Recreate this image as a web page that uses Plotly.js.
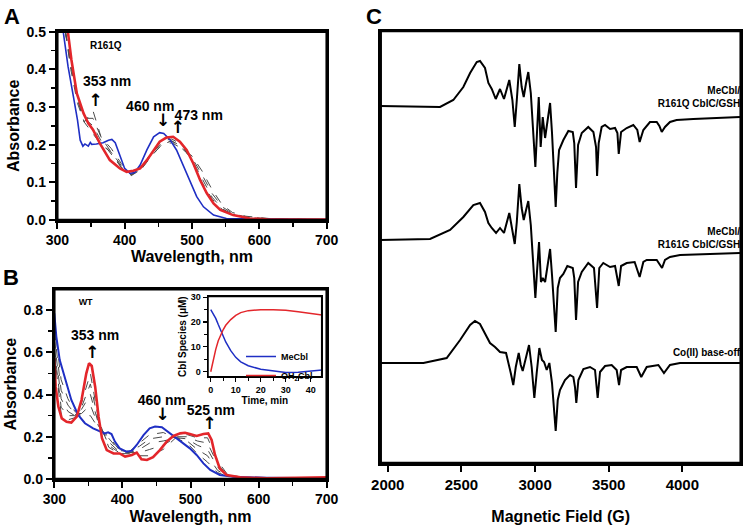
<!DOCTYPE html>
<html>
<head>
<meta charset="utf-8">
<script src="https://cdn.plot.ly/plotly-3.0.1.min.js"></script>
<style>
  html, body { margin: 0; padding: 0; background: #fff; }
  .panel { position: absolute; left: 0; top: 0; width: 745px; height: 530px; }
</style>
</head>
<body>
<div id="panelC" class="panel"></div>
<div id="panelA" class="panel"></div>
<div id="panelB" class="panel"></div>
<script>
// ---- panel A : R161Q absorbance spectra ----
const blueA_nm = [308, 316, 324, 330, 334, 338, 341, 346, 349, 351, 358, 368, 376, 381, 386, 393, 400, 408, 415, 423, 433, 443, 452, 458, 467, 477, 487, 497, 507, 517, 532, 551, 700];
const blueA_abs = [0.51, 0.407, 0.327, 0.265, 0.212, 0.196, 0.202, 0.196, 0.206, 0.201, 0.202, 0.205, 0.212, 0.214, 0.205, 0.173, 0.137, 0.124, 0.126, 0.146, 0.186, 0.221, 0.232, 0.230, 0.214, 0.186, 0.146, 0.102, 0.062, 0.035, 0.013, 0.004, 0.001];
const redA_nm = [315, 321, 329, 339, 346, 353, 363, 378, 393, 403, 413, 423, 433, 443, 452, 462, 472, 482, 492, 502, 512, 522, 532, 542, 561, 586, 611, 700];
const redA_abs = [0.51, 0.425, 0.336, 0.283, 0.257, 0.24, 0.204, 0.159, 0.137, 0.128, 0.131, 0.137, 0.159, 0.186, 0.208, 0.219, 0.221, 0.208, 0.186, 0.150, 0.106, 0.071, 0.044, 0.027, 0.013, 0.004, 0.002, 0.001];
const grayA_nm = [312, 320, 330, 340, 353, 365, 380, 395, 410, 425, 440, 455, 470, 485, 500, 515, 530, 545, 560, 580, 620, 700];
const grayA1 = [0.50, 0.40, 0.31, 0.26, 0.29, 0.22, 0.19, 0.15, 0.12, 0.14, 0.17, 0.20, 0.205, 0.19, 0.17, 0.13, 0.08, 0.04, 0.02, 0.01, 0.003, 0.001];
const grayA2 = [0.50, 0.41, 0.32, 0.27, 0.27, 0.22, 0.18, 0.145, 0.12, 0.135, 0.17, 0.20, 0.21, 0.19, 0.165, 0.12, 0.07, 0.035, 0.017, 0.008, 0.002, 0.001];
const grayA3 = [0.50, 0.42, 0.33, 0.27, 0.25, 0.21, 0.175, 0.14, 0.118, 0.135, 0.175, 0.205, 0.21, 0.195, 0.16, 0.11, 0.06, 0.03, 0.015, 0.007, 0.002, 0.001];
const grayA4 = [0.50, 0.42, 0.32, 0.26, 0.23, 0.20, 0.18, 0.14, 0.12, 0.14, 0.18, 0.21, 0.215, 0.20, 0.155, 0.10, 0.055, 0.028, 0.014, 0.006, 0.002, 0.001];

// ---- panel B : WT absorbance spectra ----
const blueB_nm = [300, 303, 308, 316, 325, 335, 345, 357, 367, 374, 379, 384, 389, 396, 406, 414, 421, 431, 440, 448, 458, 470, 480, 489, 499, 509, 519, 529, 543, 563, 612, 700];
const blueB_abs = [0.784, 0.674, 0.563, 0.469, 0.374, 0.303, 0.264, 0.240, 0.224, 0.216, 0.221, 0.213, 0.177, 0.145, 0.129, 0.134, 0.161, 0.208, 0.240, 0.248, 0.245, 0.216, 0.192, 0.169, 0.145, 0.114, 0.074, 0.043, 0.019, 0.011, 0.006, 0.003];
const redB_nm = [300, 302, 306, 311, 318, 325, 333, 340, 347, 351, 355, 360, 365, 370, 377, 387, 396, 404, 414, 421, 428, 436, 445, 455, 465, 475, 485, 492, 499, 509, 519, 526, 531, 536, 543, 553, 573, 612, 700];
const redB_abs = [0.571, 0.437, 0.342, 0.287, 0.271, 0.267, 0.295, 0.374, 0.500, 0.548, 0.535, 0.437, 0.295, 0.193, 0.137, 0.121, 0.121, 0.106, 0.114, 0.125, 0.093, 0.090, 0.103, 0.137, 0.177, 0.204, 0.216, 0.219, 0.213, 0.204, 0.213, 0.216, 0.185, 0.114, 0.050, 0.019, 0.008, 0.003, 0.008];
const grayB_nm = [300, 310, 320, 330, 340, 353, 365, 380, 395, 410, 425, 440, 460, 480, 495, 510, 525, 540, 555, 580, 620, 700];
const grayB1 = [0.74, 0.47, 0.38, 0.32, 0.30, 0.30, 0.24, 0.20, 0.14, 0.13, 0.17, 0.21, 0.22, 0.19, 0.17, 0.12, 0.08, 0.03, 0.012, 0.008, 0.004, 0.003];
const grayB2 = [0.70, 0.42, 0.35, 0.31, 0.31, 0.35, 0.25, 0.19, 0.135, 0.13, 0.155, 0.19, 0.20, 0.195, 0.18, 0.14, 0.11, 0.04, 0.014, 0.008, 0.004, 0.003];
const grayB3 = [0.66, 0.38, 0.32, 0.30, 0.33, 0.40, 0.26, 0.175, 0.13, 0.125, 0.14, 0.17, 0.18, 0.195, 0.19, 0.16, 0.14, 0.055, 0.015, 0.008, 0.004, 0.003];
const grayB4 = [0.62, 0.34, 0.30, 0.30, 0.34, 0.45, 0.27, 0.16, 0.125, 0.125, 0.125, 0.14, 0.16, 0.20, 0.20, 0.18, 0.17, 0.07, 0.017, 0.008, 0.004, 0.003];
const grayB5 = [0.60, 0.31, 0.28, 0.29, 0.36, 0.50, 0.28, 0.15, 0.12, 0.12, 0.11, 0.11, 0.14, 0.20, 0.21, 0.195, 0.195, 0.085, 0.018, 0.008, 0.004, 0.003];

// ---- inset : Cbl species vs time ----
const timeMin = [0, 1, 2, 3, 4, 5, 6, 8, 10, 12, 15, 20, 25, 30, 35, 40, 45];
const meCbl = [25, 23.5, 21.5, 19, 16.5, 14, 12, 8.5, 5.8, 4, 2.4, 1, 0.2, -0.3, -0.2, 0.3, 0.7];
const oh2Cbl = [0, 5, 9, 12.5, 15, 17, 18.7, 21, 22.7, 23.8, 24.6, 25, 25, 24.8, 24.2, 23.6, 22.8];

// ---- panel C : EPR spectra (offset, arbitrary units) ----
const fieldQ = [1948, 2355, 2445, 2513, 2559, 2604, 2626, 2660, 2683, 2706, 2733, 2762, 2789, 2825, 2846, 2862, 2876, 2893, 2909, 2923, 2939, 2954, 2971, 2988, 3002, 3013, 3025, 3038, 3052, 3068, 3102, 3115, 3129, 3140, 3151, 3163, 3192, 3226, 3256, 3266, 3278, 3292, 3317, 3361, 3396, 3414, 3421, 3432, 3452, 3475, 3509, 3543, 3559, 3568, 3584, 3622, 3667, 3694, 3710, 3735, 3780, 3826, 3844, 3860, 3882, 3916, 3961, 4074, 4391];
const signalQ = [357, 356, 363, 376, 390, 401, 402, 395, 380, 374, 364, 374, 364, 383, 363, 336, 363, 399, 376, 366, 380, 391, 370, 326, 296, 330, 366, 316, 346, 325, 360, 330, 286, 256, 290, 313, 323, 332, 331, 320, 275, 318, 330, 336, 331, 316, 287, 320, 336, 338, 334, 335, 330, 309, 331, 335, 338, 333, 321, 333, 341, 341, 337, 331, 336, 341, 343, 344, 346];
const fieldG = [1948, 2287, 2423, 2513, 2581, 2626, 2660, 2683, 2706, 2735, 2762, 2789, 2825, 2846, 2862, 2876, 2893, 2909, 2923, 2939, 2954, 2971, 2988, 3002, 3013, 3027, 3040, 3052, 3068, 3102, 3115, 3129, 3140, 3154, 3169, 3192, 3219, 3256, 3266, 3278, 3292, 3317, 3361, 3400, 3421, 3436, 3463, 3509, 3543, 3568, 3584, 3622, 3676, 3710, 3735, 3758, 3826, 3862, 3882, 3916, 3984, 4391];
const signalG = [223, 224, 233, 246, 258, 260, 251, 240, 235, 230, 235, 230, 250, 231, 219, 241, 279, 255, 243, 253, 262, 238, 191, 165, 191, 221, 181, 185, 181, 214, 188, 155, 131, 175, 185, 189, 197, 195, 185, 143, 181, 191, 200, 195, 155, 195, 200, 196, 197, 177, 197, 200, 201, 186, 201, 203, 203, 195, 203, 206, 208, 210];
const fieldCo = [1948, 2242, 2400, 2491, 2559, 2592, 2626, 2660, 2694, 2728, 2762, 2803, 2819, 2835, 2852, 2869, 2889, 2903, 2916, 2937, 2959, 2977, 2995, 3011, 3029, 3047, 3061, 3079, 3097, 3115, 3129, 3140, 3154, 3169, 3203, 3237, 3260, 3271, 3280, 3294, 3328, 3373, 3407, 3425, 3441, 3475, 3520, 3554, 3570, 3584, 3622, 3690, 3721, 3758, 3837, 3875, 3916, 3984, 4391];
const signalCo = [100, 100, 105, 123, 138, 142, 139, 130, 120, 116, 111, 110, 101, 90, 78, 96, 110, 98, 92, 106, 118, 96, 65, 90, 115, 103, 101, 93, 100, 80, 50, 32, 63, 73, 83, 88, 86, 76, 60, 83, 94, 96, 93, 65, 91, 97, 98, 93, 78, 93, 96, 96, 86, 96, 98, 90, 98, 100, 100];
const eprLabels = ["MeCbl/<br>R161Q CblC/GSH", "MeCbl/<br>R161G CblC/GSH", "Co(II) base-off"];

const FONT = "Liberation Sans, Arial, sans-serif";
const BLUE = "#1f2fc4";
const RED = "#e3262b";
const GRAY = "#4a4a4a";
const W = 745, H = 530;
const px = (v) => v / W;       // pixel column -> paper x
const py = (v) => 1 - v / H;   // pixel row -> paper y

const boldFont = (size) => ({ family: FONT, size, weight: "bold", color: "#000" });

const grayLine = (x, y) => ({
  x, y, type: "scatter", mode: "lines",
  line: { color: GRAY, width: 1, dash: "dash" }, showlegend: false,
});
const colorLine = (x, y, color, width) => ({
  x, y, type: "scatter", mode: "lines", line: { color, width }, showlegend: false,
});
// in-plot labels and arrow glyphs, placed on the data axes
const textMarks = (x, y, text, size, extra = {}) => ({
  x, y, text, type: "scatter", mode: "text", textposition: "middle center",
  textfont: boldFont(size), showlegend: false, cliponaxis: false, ...extra,
});
const arrowMarks = (x, y, text) => textMarks(x, y, text, 17, {
  textfont: { family: "DejaVu Sans", size: 17, weight: "bold", color: "#000" },
});

const frame = {
  showline: true, linewidth: 2.5, linecolor: "#000", mirror: true,
  showgrid: false, zeroline: false,
  ticks: "outside", ticklen: 6, tickwidth: 2, tickcolor: "#000",
  tickfont: boldFont(14),
};
const insetFrame = {
  showline: true, linewidth: 1.5, linecolor: "#000", mirror: true,
  showgrid: false, zeroline: false,
  ticks: "outside", ticklen: 4, tickwidth: 1.2, tickcolor: "#000",
  tickfont: boldFont(9),
};
const boxShape = (xa, ya, width) => ({
  type: "rect", xref: xa + " domain", yref: ya + " domain", x0: 0, x1: 1, y0: 0, y1: 1,
  line: { color: "#000", width },
});
const panelTitle = (text, x, y) => ({
  text, font: boldFont(22), x: px(x), y: py(y), xref: "container", yref: "container",
  xanchor: "center", yanchor: "middle",
});
const baseLayout = () => ({
  width: W, height: H,
  margin: { l: 0, r: 0, t: 0, b: 0 },
  paper_bgcolor: "rgba(0,0,0,0)", plot_bgcolor: "rgba(0,0,0,0)",
  showlegend: false,
});
const config = { staticPlot: true, displayModeBar: false };

// ---- panel A ----
Plotly.newPlot("panelA", [
  ...[grayA1, grayA2, grayA3, grayA4].map((g) => grayLine(grayA_nm, g)),
  colorLine(blueA_nm, blueA_abs, BLUE, 1.6),
  colorLine(redA_nm, redA_abs, RED, 2.6),
  textMarks([374, 438, 510], [0.364, 0.30, 0.274], ["353 nm", "460 nm", "473 nm"], 14),
  textMarks([372], [0.46], ["R161Q"], 10),
  arrowMarks([357, 457, 479], [0.315, 0.262, 0.243], ["\u2191", "\u2193", "\u2191"]),
], {
  ...baseLayout(),
  title: panelTitle("A", 12, 16),
  xaxis: { ...frame, domain: [px(57.3), px(326.7)], range: [300, 700], dtick: 100,
    minor: { ticks: "outside", dtick: 50, ticklen: 4, tickwidth: 1.5 },
    title: { text: "Wavelength, nm", font: boldFont(16), standoff: 2 } },
  yaxis: { ...frame, domain: [py(220), py(31.7)], range: [0, 0.5], dtick: 0.1, tickformat: ".1f",
    minor: { ticks: "outside", dtick: 0.05, ticklen: 4, tickwidth: 1.5 },
    title: { text: "Absorbance", font: boldFont(16), standoff: 3 } },
  shapes: [boxShape("x", "y", 2.5)],
}, config);

// ---- panel B with inset ----
Plotly.newPlot("panelB", [
  ...[grayB1, grayB2, grayB3, grayB4, grayB5].map((g) => grayLine(grayB_nm, g)),
  colorLine(blueB_nm, blueB_abs, BLUE, 2),
  colorLine(redB_nm, redB_abs, RED, 2.6),
  textMarks([360, 458, 530], [0.674, 0.366, 0.319], ["353 nm", "460 nm", "525 nm"], 14),
  textMarks([346], [0.832], ["WT"], 9),
  arrowMarks([356, 459, 528], [0.595, 0.298, 0.256], ["\u2191", "\u2193", "\u2191"]),
  { x: timeMin, y: meCbl, xaxis: "x2", yaxis: "y2", type: "scatter", mode: "lines",
    name: "MeCbl", line: { color: BLUE, width: 1.5 } },
  { x: timeMin, y: oh2Cbl, xaxis: "x2", yaxis: "y2", type: "scatter", mode: "lines",
    name: "OH<sub>2</sub>Cbl", line: { color: RED, width: 1.5 } },
], {
  ...baseLayout(),
  title: panelTitle("B", 11, 277),
  xaxis: { ...frame, domain: [px(54.3), px(326.7)], anchor: "y", range: [300, 700], dtick: 100,
    minor: { ticks: "outside", dtick: 50, ticklen: 4, tickwidth: 1.5 },
    title: { text: "Wavelength, nm", font: boldFont(16), standoff: 5 } },
  yaxis: { ...frame, domain: [py(479), py(289.3)], anchor: "x", range: [0, 0.898], dtick: 0.2, tickformat: ".1f",
    minor: { ticks: "outside", dtick: 0.1, ticklen: 4, tickwidth: 1.5 },
    title: { text: "Absorbance", font: boldFont(16), standoff: 3 } },
  xaxis2: { ...insetFrame, domain: [px(208), px(321.7)], anchor: "y2", range: [-1.1, 44.4], dtick: 10,
    minor: { ticks: "outside", dtick: 5, ticklen: 3, tickwidth: 1 },
    title: { text: "Time, min", font: boldFont(10), standoff: 3 } },
  yaxis2: { ...insetFrame, domain: [py(376.7), py(296.5)], anchor: "x2", range: [-2, 30.3], dtick: 10,
    minor: { ticks: "outside", dtick: 5, ticklen: 3, tickwidth: 1 },
    title: { text: "Cbl Species (\u03bcM)", font: boldFont(10), standoff: 2 } },
  showlegend: true,
  legend: { x: px(241), y: py(342), xanchor: "left", yanchor: "top", bgcolor: "rgba(0,0,0,0)",
    font: boldFont(9) },
  shapes: [boxShape("x", "y", 2.5), boxShape("x2", "y2", 1.5)],
}, config);

// ---- panel C : EPR ----
Plotly.newPlot("panelC", [
  colorLine(fieldQ, signalQ, "#000", 2),
  colorLine(fieldG, signalG, "#000", 2),
  colorLine(fieldCo, signalCo, "#000", 2),
  textMarks([4392, 4392, 4392], [365, 224, 110], eprLabels, 10, { textposition: "middle left" }),
], {
  ...baseLayout(),
  title: panelTitle("C", 374, 16),
  xaxis: { ...frame, domain: [px(380.7), px(740.7)], range: [1952, 4396], tick0: 2000, dtick: 500,
    tickfont: boldFont(15),
    title: { text: "Magnetic Field (G)", font: boldFont(16), standoff: 20 } },
  yaxis: { ...frame, domain: [py(463), py(31)], range: [0, 432], ticks: "", showticklabels: false },
  shapes: [boxShape("x", "y", 2.5)],
}, config);
</script>
</body>
</html>
